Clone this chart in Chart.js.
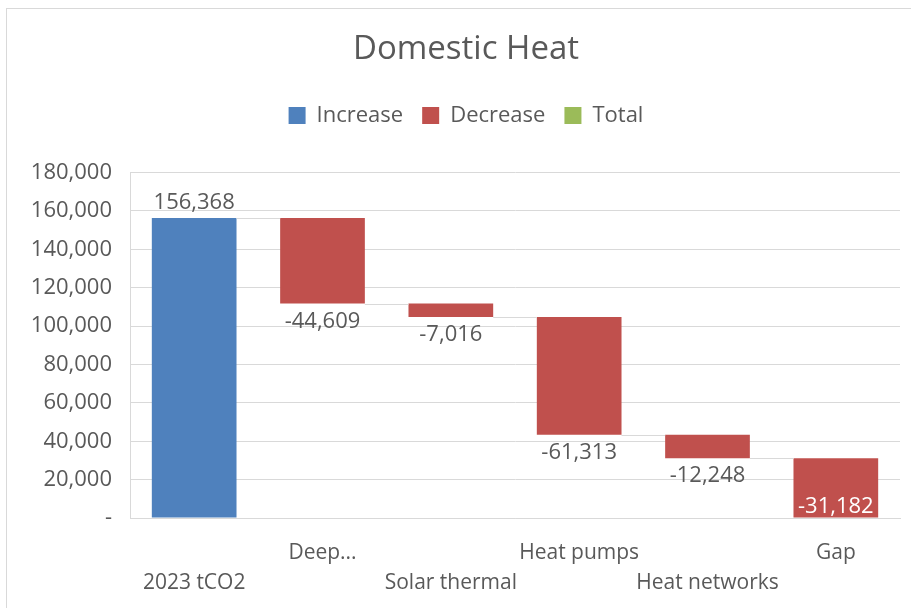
<!DOCTYPE html>
<html>
<head>
<meta charset="utf-8">
<title>Domestic Heat</title>
<script src="https://cdn.jsdelivr.net/npm/chart.js@4.4.1/dist/chart.umd.min.js"></script>
<style>
    html, body { margin: 0; padding: 0; background: #fff; overflow: hidden; }
    #wrap { position: relative; width: 911px; height: 608px; }
    #frame {
        position: absolute; left: 6px; top: 8px; width: 940px; height: 640px;
        border: 1px solid #d9d9d9; pointer-events: none;
    }
</style>
</head>
<body>
<div id="wrap">
    <canvas id="heatChart"></canvas>
    <div id="frame"></div>
</div>
<script>
// Emissões tCO2 - Domestic Heat (waterfall)
const categories = ['2023 tCO2', 'Deep...', 'Solar thermal', 'Heat pumps', 'Heat networks', 'Gap'];
const changes = [156368, -44609, -7016, -61313, -12248, -31182];
const yTicks = [0, 20000, 40000, 60000, 80000, 100000, 120000, 140000, 160000, 180000];

const COR_AUMENTO = '#4f81bd';
const COR_REDUCAO = '#c0504d';
const COR_TOTAL = '#9bbb59';
const COR_TEXTO = '#595959';
const COR_GRADE = '#d9d9d9';

// monta os intervalos flutuantes [inicio, fim] a partir das variações
const ranges = [];
let acumulado = 0;
changes.forEach(v => {
    ranges.push([acumulado, acumulado + v]);
    acumulado += v;
});

const increaseData = ranges.map((r, i) => changes[i] >= 0 ? r : null);
const decreaseData = ranges.map((r, i) => changes[i] < 0 ? r : null);
const totalData = categories.map(() => null);

const fmt = n => n.toLocaleString('en-US');

// altura fixa da legenda para abrir espaço acima do gráfico
const legendHeightPlugin = {
    id: 'legendHeight',
    beforeInit(chart) {
        const fitOriginal = chart.legend.fit;
        chart.legend.fit = function () {
            fitOriginal.bind(chart.legend)();
            this.height = 87;
        };
    }
};

// linhas de ligação entre as barras + rótulos de valor
const waterfallPlugin = {
    id: 'waterfall',
    afterDatasetsDraw(chart) {
        const ctx = chart.ctx;
        const y = chart.scales.y;
        const bars = [];
        chart.data.datasets.forEach((ds, di) => {
            chart.getDatasetMeta(di).data.forEach((el, i) => {
                if (ds.data[i]) bars[i] = el;
            });
        });

        ctx.save();
        ctx.strokeStyle = COR_GRADE;
        ctx.lineWidth = 1;
        for (let i = 0; i < bars.length - 1; i++) {
            const a = bars[i], b = bars[i + 1];
            const yy = Math.round(y.getPixelForValue(ranges[i][1])) + 0.5;
            ctx.beginPath();
            ctx.moveTo(a.x + a.width / 2, yy);
            ctx.lineTo(b.x - b.width / 2, yy);
            ctx.stroke();
        }

        ctx.font = '22px "Open Sans"';
        ctx.textAlign = 'center';
        ctx.textBaseline = 'middle';
        bars.forEach((el, i) => {
            const v = changes[i];
            const top = y.getPixelForValue(Math.max(...ranges[i]));
            const bottom = y.getPixelForValue(Math.min(...ranges[i]));
            let ty, cor = COR_TEXTO;
            if (v >= 0) {
                ty = top - 15;
            } else if (bottom + 30 > y.bottom) {
                ty = bottom - 11;
                cor = '#ffffff';
            } else {
                ty = bottom + 18;
            }
            ctx.fillStyle = cor;
            ctx.fillText(fmt(v), el.x, ty);
        });
        ctx.restore();
    }
};

const ctx = document.getElementById('heatChart').getContext('2d');
new Chart(ctx, {
    type: 'bar',
    data: {
        labels: categories,
        datasets: [
            { label: 'Increase', data: increaseData, backgroundColor: COR_AUMENTO },
            { label: 'Decrease', data: decreaseData, backgroundColor: COR_REDUCAO },
            { label: 'Total', data: totalData, backgroundColor: COR_TOTAL }
        ]
    },
    options: {
        responsive: true,
        maintainAspectRatio: false,
        animation: false,
        layout: { padding: { left: 32, right: 11, top: 0, bottom: 0 } },
        datasets: {
            bar: { grouped: false, categoryPercentage: 1, barPercentage: 0.66, borderWidth: 0 }
        },
        scales: {
            x: {
                grid: { display: false },
                border: { color: COR_GRADE },
                afterFit: scale => { scale.height = 90; },
                ticks: {
                    autoSkip: false,
                    maxRotation: 0,
                    padding: 12,
                    color: COR_TEXTO,
                    font: { family: 'Open Sans', size: 21, lineHeight: 1.43 },
                    // rótulos alternados em duas linhas
                    callback: function (value, index) {
                        const nome = categories[index];
                        return index % 2 === 0 ? ['', nome] : [nome, ''];
                    }
                }
            },
            y: {
                min: 0,
                max: 180000,
                afterFit: scale => { scale.width = 98; },
                afterBuildTicks: scale => { scale.ticks = yTicks.map(v => ({ value: v })); },
                grid: { color: COR_GRADE, drawTicks: false },
                border: { display: true, color: COR_GRADE },
                ticks: {
                    padding: 18,
                    color: COR_TEXTO,
                    font: { family: 'Open Sans', size: 22 },
                    callback: v => v === 0 ? '-' : fmt(v)
                }
            }
        },
        plugins: {
            title: {
                display: true,
                text: 'Domestic Heat',
                color: COR_TEXTO,
                font: { family: 'Open Sans', size: 33, weight: 'normal' },
                padding: { top: 30, bottom: 16 }
            },
            legend: {
                labels: {
                    color: COR_TEXTO,
                    font: { family: 'Open Sans', size: 22 },
                    boxWidth: 17,
                    boxHeight: 17,
                    padding: 19
                }
            },
            tooltip: { enabled: false }
        }
    },
    plugins: [legendHeightPlugin, waterfallPlugin]
});
</script>
</body>
</html>
